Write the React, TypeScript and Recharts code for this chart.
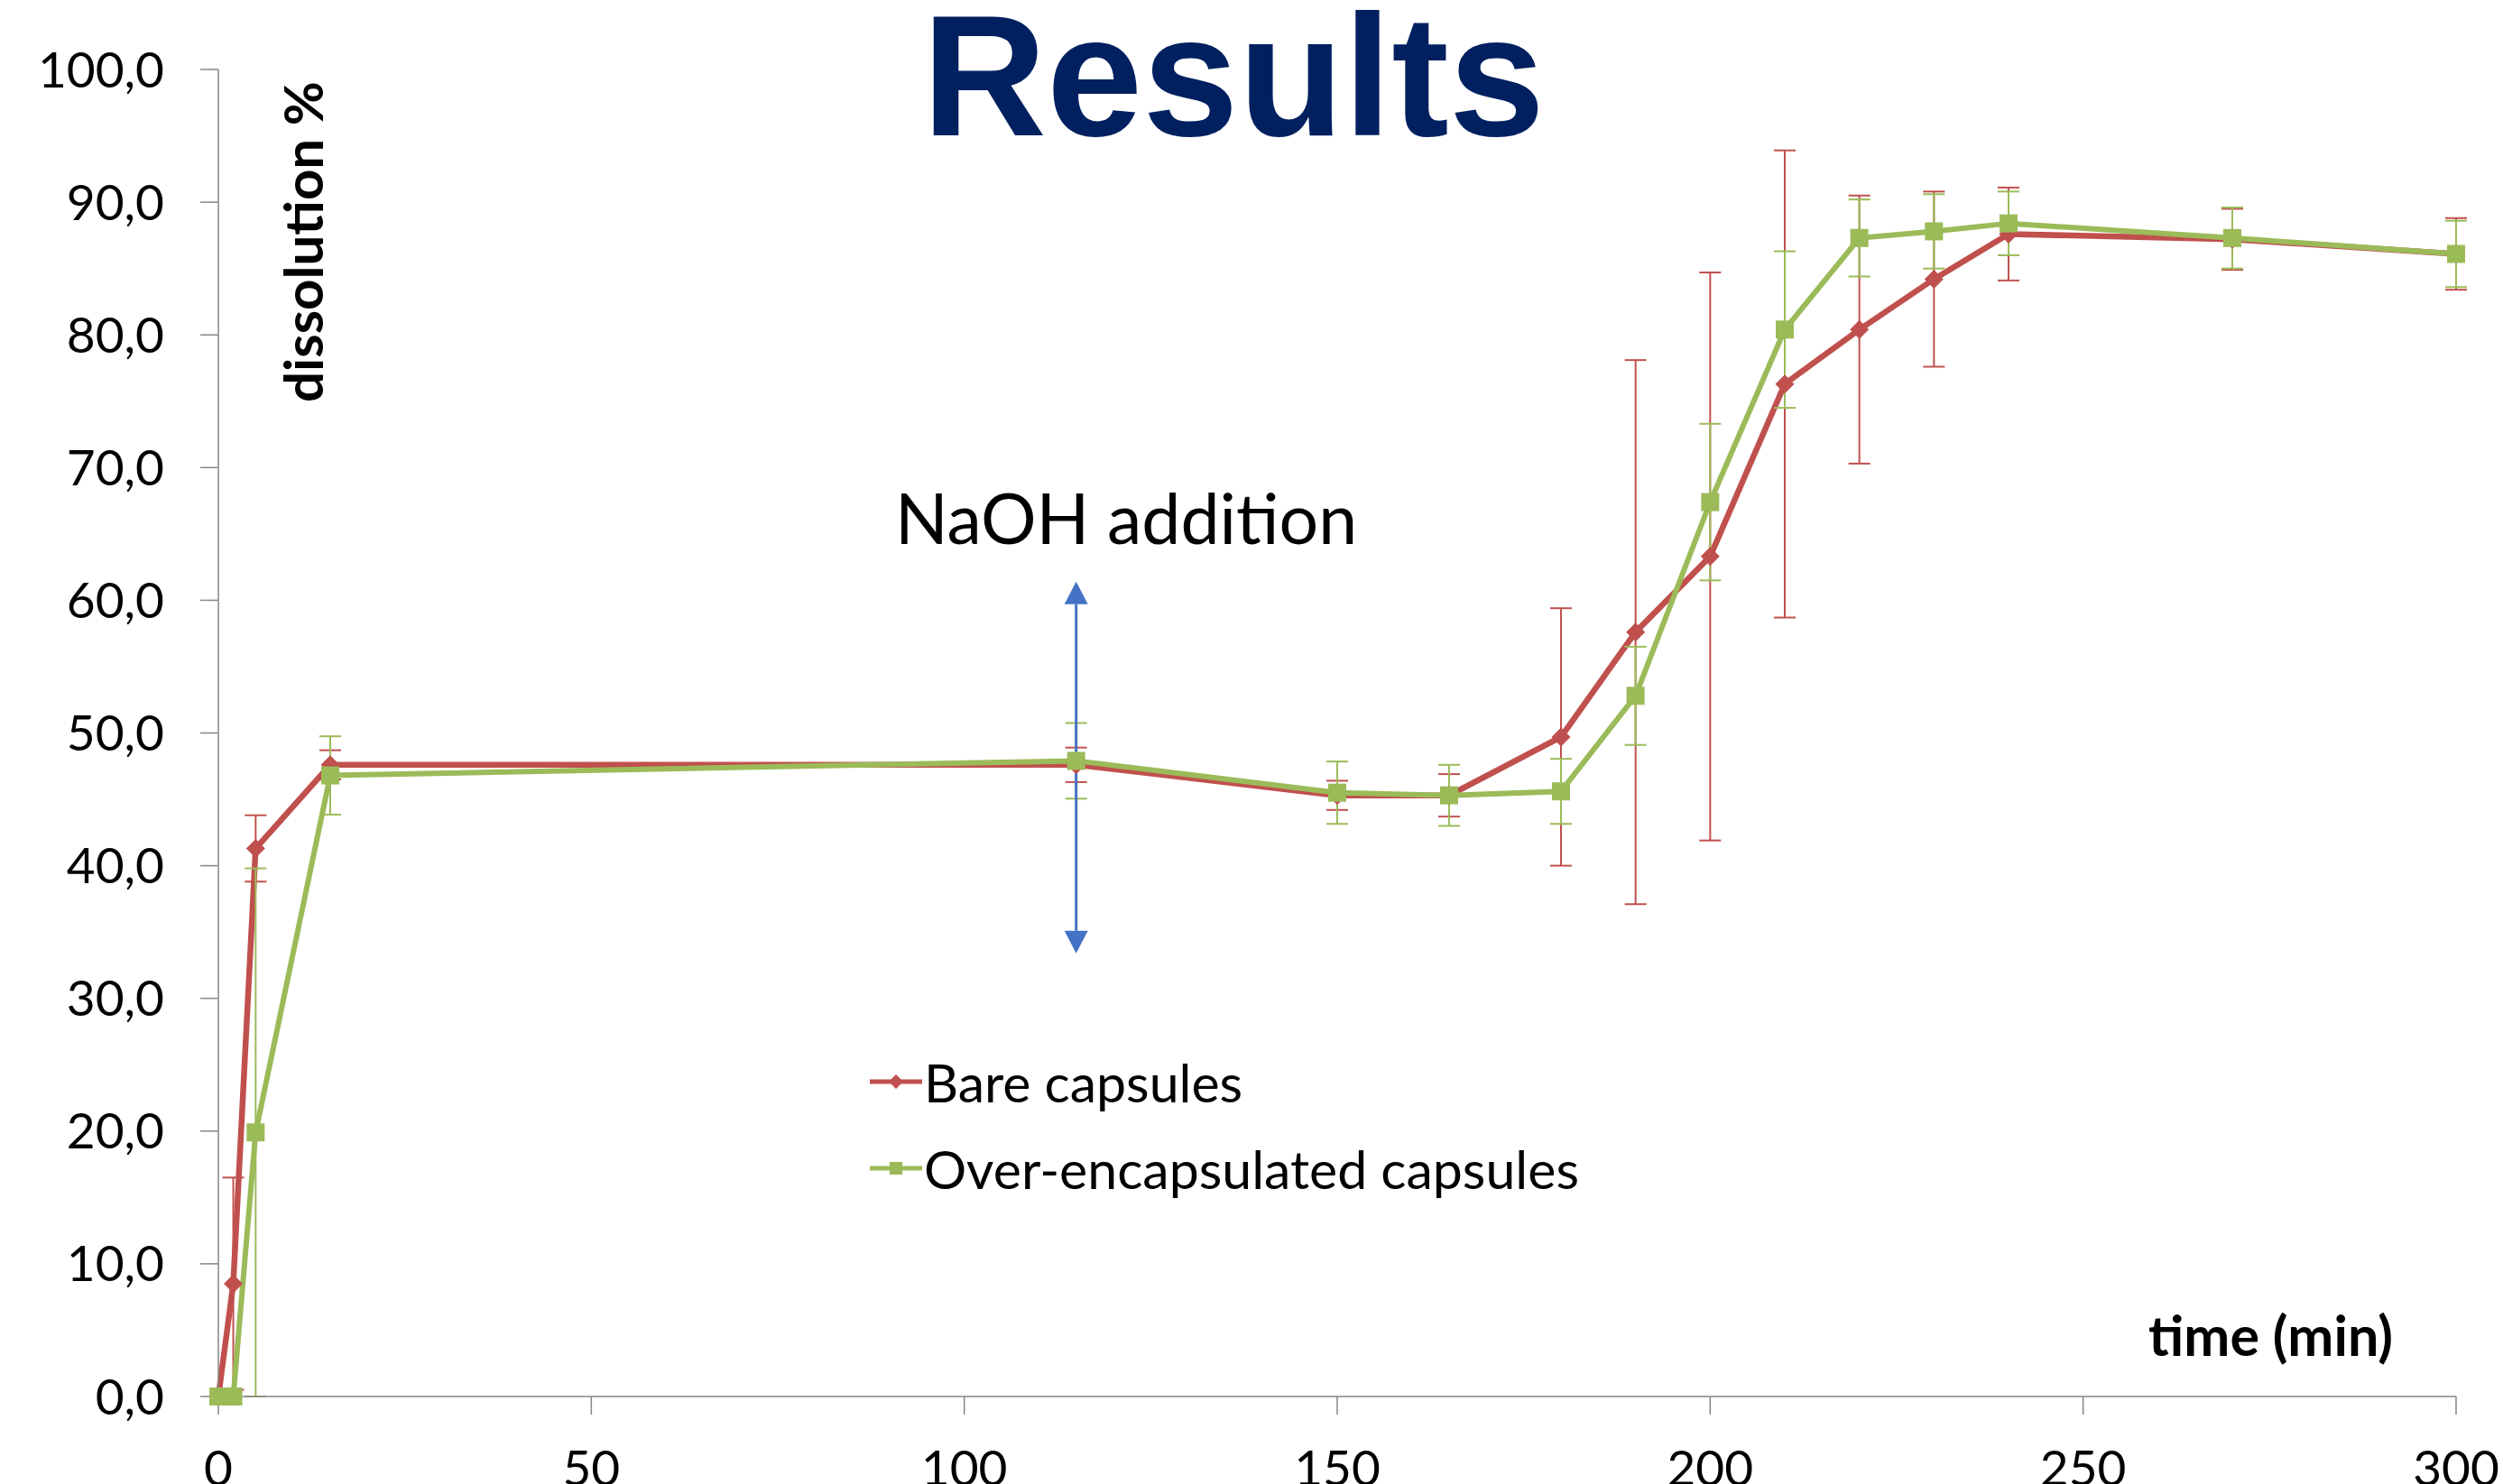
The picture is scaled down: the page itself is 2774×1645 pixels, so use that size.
import { LineChart, Line, XAxis, YAxis, ErrorBar, ReferenceLine, Legend } from 'recharts';

// sampling times (min)
const times = [0, 2, 5, 15, 115, 150, 165, 180, 190, 200, 210, 220, 230, 240, 270, 300];

// dissolution % and standard deviations
const bareCapsules = [0, 8.5, 41.3, 47.6, 47.6, 45.3, 45.3, 49.7, 57.6, 63.3, 76.3, 80.4, 84.2, 87.6, 87.2, 86.1];
const bareCapsulesSd = [0, 8.0, 2.5, 1.1, 1.3, 1.1, 1.6, 9.7, 20.5, 21.4, 17.6, 10.1, 6.6, 3.5, 2.3, 2.7];
const overCapsules = [0, 0, 19.9, 46.8, 47.9, 45.5, 45.3, 45.6, 52.8, 67.4, 80.4, 87.3, 87.8, 88.4, 87.3, 86.1];
const overCapsulesSd = [0, 0, 19.9, 2.95, 2.85, 2.35, 2.3, 2.45, 3.7, 5.9, 5.9, 2.9, 2.8, 2.4, 2.3, 2.5];

const xTicks = [0, 50, 100, 150, 200, 250, 300];
const yTicks = [0, 10, 20, 30, 40, 50, 60, 70, 80, 90, 100];

// NaOH addition marker
const naohTime = 115;
const naohRange = [33.4, 61.4];

const data = times.map((t, i) => ({
  t,
  bare: bareCapsules[i],
  bareSd: bareCapsulesSd[i],
  over: overCapsules[i],
  overSd: overCapsulesSd[i],
}));

const RED = '#C0504D';
const GREEN = '#9BBB59';
const AXIS = '#868686';
const BLUE = '#4472C4';
const FONT = 'Lato, "Open Sans", sans-serif';

const Diamond = (props: any) => {
  const { cx, cy, index } = props;
  if (cx == null || cy == null) return <g key={index} />;
  const r = 10.5;
  return <path key={index} d={`M${cx},${cy - r}L${cx + r},${cy}L${cx},${cy + r}L${cx - r},${cy}Z`} fill={RED} />;
};

const Square = (props: any) => {
  const { cx, cy, index } = props;
  if (cx == null || cy == null) return <g key={index} />;
  return <rect key={index} x={cx - 10} y={cy - 10} width={20} height={20} fill={GREEN} />;
};

const NaohArrow = (props: any) => {
  const { x1, y1, y2 } = props;
  const top = Math.min(y1, y2);
  const bot = Math.max(y1, y2);
  const hw = 13;
  const hh = 25;
  return (
    <g>
      <line x1={x1} y1={top + hh} x2={x1} y2={bot - hh} stroke={BLUE} strokeWidth={3} />
      <path d={`M${x1},${top}L${x1 + hw},${top + hh}L${x1 - hw},${top + hh}Z`} fill={BLUE} />
      <path d={`M${x1},${bot}L${x1 + hw},${bot - hh}L${x1 - hw},${bot - hh}Z`} fill={BLUE} />
    </g>
  );
};

const legendItems = [
  { name: 'Bare capsules', color: RED, shape: 'diamond' },
  { name: 'Over-encapsulated capsules', color: GREEN, shape: 'square' },
];

const LegendBox = () => (
  <div style={{ fontFamily: FONT, fontSize: 59, color: '#000' }}>
    {legendItems.map((it) => (
      <div key={it.name} style={{ display: 'flex', alignItems: 'center', height: 96 }}>
        <svg width={58} height={24} style={{ marginRight: 2 }}>
          <line x1={0} y1={12} x2={58} y2={12} stroke={it.color} strokeWidth={5} />
          {it.shape === 'diamond' ? (
            <path d="M29,4L37,12L29,20L21,12Z" fill={it.color} />
          ) : (
            <rect x={22} y={5} width={14} height={14} fill={it.color} />
          )}
        </svg>
        <span style={{ whiteSpace: 'nowrap' }}>{it.name}</span>
      </div>
    ))}
  </div>
);

const fmt = (v: number) => v.toFixed(1).replace('.', ',');

export default function App() {
  return (
    <div style={{ position: 'absolute', left: 0, top: 0, width: 2774, height: 1645, background: '#fff' }}>
      <LineChart width={2774} height={1645} data={data} margin={{ top: 77, right: 52, left: 0, bottom: 0 }}>
        <XAxis
          dataKey="t"
          type="number"
          domain={[0, 300]}
          ticks={xTicks}
          height={97}
          tickSize={20}
          tickMargin={40}
          axisLine={{ stroke: AXIS, strokeWidth: 1.5 }}
          tickLine={{ stroke: AXIS, strokeWidth: 1.5 }}
          tick={{ fontFamily: FONT, fontSize: 55, fill: '#000' }}
          interval={0}
        />
        <YAxis
          type="number"
          domain={[0, 100]}
          ticks={yTicks}
          width={242}
          tickSize={20}
          tickMargin={40}
          tickFormatter={fmt}
          axisLine={{ stroke: AXIS, strokeWidth: 1.5 }}
          tickLine={{ stroke: AXIS, strokeWidth: 1.5 }}
          tick={{ fontFamily: FONT, fontSize: 55, fill: '#000' }}
          interval={0}
        />
        <Line
          dataKey="bare"
          name="Bare capsules"
          type="linear"
          stroke={RED}
          strokeWidth={6.5}
          dot={Diamond}
          activeDot={false}
          isAnimationActive={false}
        >
          <ErrorBar dataKey="bareSd" direction="y" width={12} stroke={RED} strokeWidth={2} />
        </Line>
        <Line
          dataKey="over"
          name="Over-encapsulated capsules"
          type="linear"
          stroke={GREEN}
          strokeWidth={6}
          dot={Square}
          activeDot={false}
          isAnimationActive={false}
        >
          <ErrorBar dataKey="overSd" direction="y" width={12} stroke={GREEN} strokeWidth={2} />
        </Line>
        <ReferenceLine
          segment={[
            { x: naohTime, y: naohRange[0] },
            { x: naohTime, y: naohRange[1] },
          ]}
          shape={NaohArrow}
        />
        <Legend
          layout="vertical"
          align="center"
          verticalAlign="middle"
          content={LegendBox}
          wrapperStyle={{ left: 964, top: 1151, width: 'auto', height: 'auto' }}
        />
        <text x={1367} y={150} textAnchor="middle" fontFamily="'Liberation Sans', Arial, sans-serif" fontWeight="bold" fontSize={191} fill="#002060">
          Results
        </text>
        <text x={1248} y={603} textAnchor="middle" fontFamily={FONT} fontSize={77} fill="#000">
          NaOH addition
        </text>
        <text x={358} y={268} textAnchor="middle" transform="rotate(-90, 358, 268)" fontFamily={FONT} fontWeight="bold" fontSize={60} fill="#000">
          dissolution %
        </text>
        <text x={2652} y={1503} textAnchor="end" fontFamily={FONT} fontWeight="bold" fontSize={61} fill="#000">
          time (min)
        </text>
      </LineChart>
    </div>
  );
}
